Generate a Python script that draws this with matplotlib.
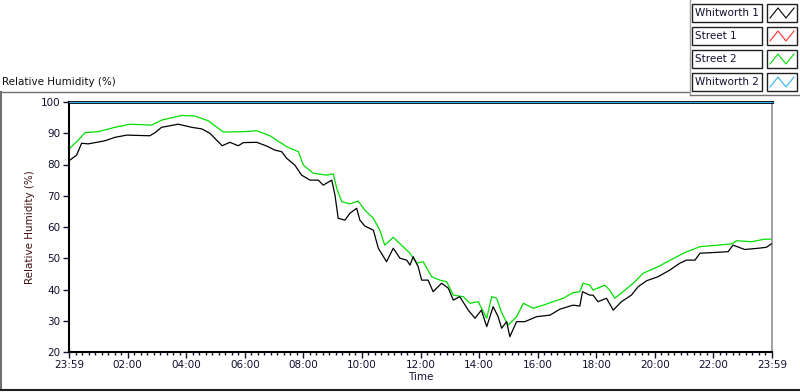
import numpy as np
import matplotlib
matplotlib.use("Agg")
import matplotlib.pyplot as plt
from matplotlib.lines import Line2D
from matplotlib.patches import Rectangle

# hours since 23:59 and relative humidity
whit1_h = [0.0, 0.26, 0.43, 0.66, 1.23, 1.57, 1.97, 2.37, 2.76, 2.94, 3.16, 3.73, 4.19,
           4.53, 4.81, 5.04, 5.23, 5.49, 5.78, 5.95, 6.41, 6.75, 7.03, 7.26, 7.43, 7.71,
           7.94, 8.23, 8.51, 8.68, 8.97, 9.08, 9.19, 9.42, 9.59, 9.82, 9.93, 10.10, 10.39,
           10.56, 10.84, 11.07, 11.30, 11.53, 11.64, 11.75, 11.92, 12.04, 12.26, 12.43,
           12.72, 12.95, 13.12, 13.34, 13.63, 13.86, 14.08, 14.26, 14.48, 14.65, 14.77,
           14.94, 15.05, 15.28, 15.56, 15.96, 16.42, 16.76, 17.21, 17.44, 17.53, 17.78,
           17.89, 18.06, 18.35, 18.58, 18.86, 19.20, 19.43, 19.72, 20.11, 20.51, 20.85,
           21.08, 21.37, 21.54, 21.94, 22.50, 22.67, 23.07, 23.53, 23.81, 23.98]
whit1_v = [81.2, 83.0, 86.8, 86.6, 87.6, 88.7, 89.4, 89.3, 89.2, 90.2, 91.9, 92.9, 91.9,
           91.4, 90.0, 87.8, 86.0, 87.1, 86.0, 87.0, 87.1, 85.9, 84.6, 84.1, 82.0, 79.8,
           76.6, 75.0, 75.0, 73.4, 75.0, 70.2, 62.8, 62.2, 64.4, 66.0, 62.2, 60.3, 59.0,
           53.2, 48.9, 53.2, 50.0, 49.4, 47.8, 50.5, 47.3, 43.0, 43.0, 39.3,
           42.0, 40.4, 36.6, 37.7, 33.4, 30.8, 33.4, 28.1, 34.5, 31.3, 27.6,
           29.7, 24.9, 29.7, 29.7, 31.3, 31.8, 33.7, 35.0, 34.7, 39.3, 38.2,
           38.2, 36.1, 37.2, 33.4, 36.1, 38.2, 40.9, 42.8, 44.1, 46.2, 48.4,
           49.4, 49.4, 51.6, 51.8, 52.1, 54.2, 52.8, 53.2, 53.5, 54.6]

street2_h = [0.0, 0.32, 0.55, 1.00, 1.57, 2.08, 2.82, 3.16, 3.85, 4.30, 4.75, 5.27, 5.95,
             6.41, 6.86, 7.43, 7.83, 8.00, 8.34, 8.80, 9.02, 9.14, 9.31, 9.59, 9.87, 10.10,
             10.39, 10.61, 10.78, 11.07, 11.35, 11.64, 11.87, 12.09, 12.38, 12.66, 12.89,
             13.12, 13.46, 13.69, 13.97, 14.26, 14.43, 14.60, 14.77, 14.99, 15.28, 15.51,
             15.85, 16.19, 16.53, 16.87, 17.21, 17.44, 17.55, 17.78, 17.89, 18.29, 18.46,
             18.63, 18.98, 19.32, 19.60, 20.11, 20.57, 21.02, 21.54, 22.16, 22.62, 22.79,
             23.30, 23.75, 23.98]
street2_v = [85.0, 87.8, 90.2, 90.5, 91.9, 92.9, 92.6, 94.2, 95.7, 95.5, 94.0, 90.4, 90.5,
             90.8, 89.2, 85.7, 84.1, 79.8, 77.2, 76.6, 77.0, 72.4, 68.1, 67.4, 68.3, 65.4,
             62.8, 59.0, 54.2, 56.7, 54.2, 51.6, 48.4, 48.9, 44.1, 43.0, 42.5,
             38.2, 37.7, 35.6, 36.1, 30.8, 37.7, 37.2, 32.6, 28.6, 31.3, 35.6,
             34.0, 35.0, 36.1, 37.2, 39.0, 39.3, 42.0, 41.4, 39.8, 41.4, 39.8,
             37.2, 39.8, 42.5, 45.2, 47.3, 49.6, 51.8, 53.7, 54.2, 54.6, 55.6,
             55.3, 56.1, 56.1]

whit2_h = [0.0, 24.0]
whit2_v = [100.0, 100.0]

tick_hours = [0, 2, 4, 6, 8, 10, 12, 14, 16, 18, 20, 22, 24]
tick_labels = ["23:59", "02:00", "04:00", "06:00", "08:00", "10:00", "12:00",
               "14:00", "16:00", "18:00", "20:00", "22:00", "23:59"]
y_ticks = [20, 30, 40, 50, 60, 70, 80, 90, 100]

series_names = ["Whitworth 1", "Street 1", "Street 2", "Whitworth 2"]
series_colors = ["#000000", "#ff3030", "#00e000", "#30b0f0"]

plt.rcParams['font.family'] = ['DejaVu Sans']
fig = plt.figure(figsize=(8, 3.92), dpi=100)
ax = fig.add_axes([69/800, 1 - 352/392, 703/800, 250/392])

ax.plot(whit2_h, whit2_v, color=series_colors[3], lw=0.8, clip_on=False, zorder=4)
ax.plot(street2_h, street2_v, color=series_colors[2], lw=0.9, zorder=2)
ax.plot(whit1_h, whit1_v, color=series_colors[0], lw=0.9, zorder=3)

ax.set_xlim(0, 24)
ax.set_ylim(20, 100)
ax.set_xticks(tick_hours)
ax.set_xticklabels(tick_labels)
ax.set_xticks(np.arange(0, 24.01, 2/9), minor=True)
ax.set_yticks(y_ticks)
ax.tick_params(axis='both', which='major', length=4, width=1, labelsize=7.5, colors='#101030', pad=2)
ax.tick_params(axis='x', which='minor', length=2.5, width=1, color='#101030')
ax.set_xlabel("Time", fontsize=7.5, labelpad=1, color='#101030')
ax.set_ylabel("Relative Humidity (%)", fontsize=7.5, color='#401010', labelpad=4)

for side in ['left', 'bottom']:
    ax.spines[side].set_color('black')
    ax.spines[side].set_linewidth(1.5)
ax.spines['top'].set_color('black')
ax.spines['top'].set_linewidth(2.0)
ax.spines['right'].set_color('#909090')
ax.spines['right'].set_linewidth(1.2)

# surrounding frame lines
def fx(x):
    return x / 800

def fy(y):
    return 1 - y / 392

frame_col = '#707070'
fig.add_artist(Line2D([fx(0), fx(690)], [fy(92), fy(92)], color=frame_col, lw=1))
fig.add_artist(Line2D([fx(1), fx(1)], [fy(92), fy(390)], color=frame_col, lw=1.5))
fig.add_artist(Line2D([fx(0), fx(800)], [fy(390), fy(390)], color='#202020', lw=1.5))
fig.add_artist(Line2D([fx(690), fx(690)], [fy(0), fy(95)], color='#a0a0a0', lw=1))
fig.add_artist(Line2D([fx(690), fx(800)], [fy(95), fy(95)], color=frame_col, lw=1))

fig.text(fx(2), fy(82), "Relative Humidity (%)", fontsize=7.5, color='#101010', va='center', ha='left')

# legend boxes
for i, (name, col) in enumerate(zip(series_names, series_colors)):
    top = 4 + i * 23
    fig.add_artist(Rectangle((fx(692), fy(top + 18)), fx(70), 18/392, fill=False,
                             edgecolor='#202020', lw=1))
    fig.text(fx(695), fy(top + 9), name, fontsize=7.5, va='center', ha='left', color='#101030')
    fig.add_artist(Rectangle((fx(767), fy(top + 18)), fx(30), 18/392, fill=False,
                             edgecolor='#202020', lw=1))
    zx = [fx(770), fx(778), fx(786), fx(794)]
    zy = [fy(top + 14), fy(top + 4), fy(top + 14), fy(top + 4)]
    fig.add_artist(Line2D(zx, zy, color=col, lw=0.8))

fig.savefig("out.png", dpi=100)
